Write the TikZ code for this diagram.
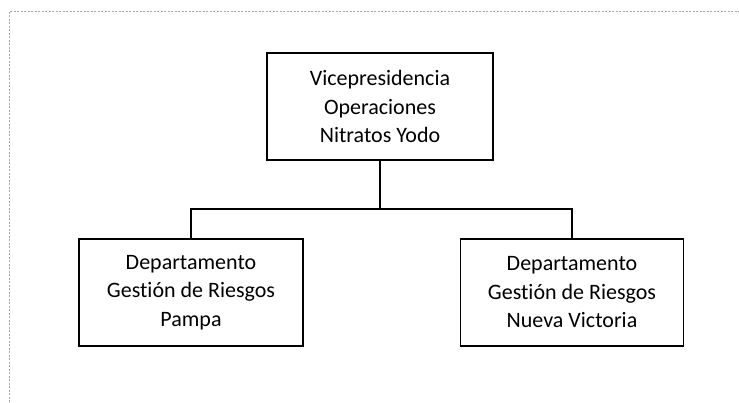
\documentclass[tikz,border=0pt]{standalone}
\usepackage{fontspec}
\setmainfont{Carlito}[Ligatures=NoCommon]
\usepackage{tikz}

\tikzset{unit/.style={draw,line width=1.4pt,minimum height=107pt,align=center,inner sep=0pt,font=\fontsize{22}{28.5}\selectfont}}

\begin{document}
\begin{tikzpicture}[x=1pt,y=-1pt]
\useasboundingbox (0,0) rectangle (739,402);
\draw[gray!70,dashed,dash pattern=on 2pt off 1.5pt] (9,402)--(9,11)--(739,11);
\node[unit,minimum width=226pt] (vp) at (380,106.5) {Vicepresidencia\\Operaciones\\Nitratos Yodo};
\node[unit,minimum width=224pt] (pampa) at (191,292.5) {Departamento\\Gestión de Riesgos\\Pampa};
\node[unit,minimum width=223pt] (nv) at (572,292.5) {Departamento\\Gestión de Riesgos\\Nueva Victoria};
\coordinate (bar) at (380,209);
\draw[line width=1.4pt] (vp.south)--(bar);
\draw[line width=1.4pt] (pampa.north)|-(bar)-|(nv.north);
\end{tikzpicture}
\end{document}
